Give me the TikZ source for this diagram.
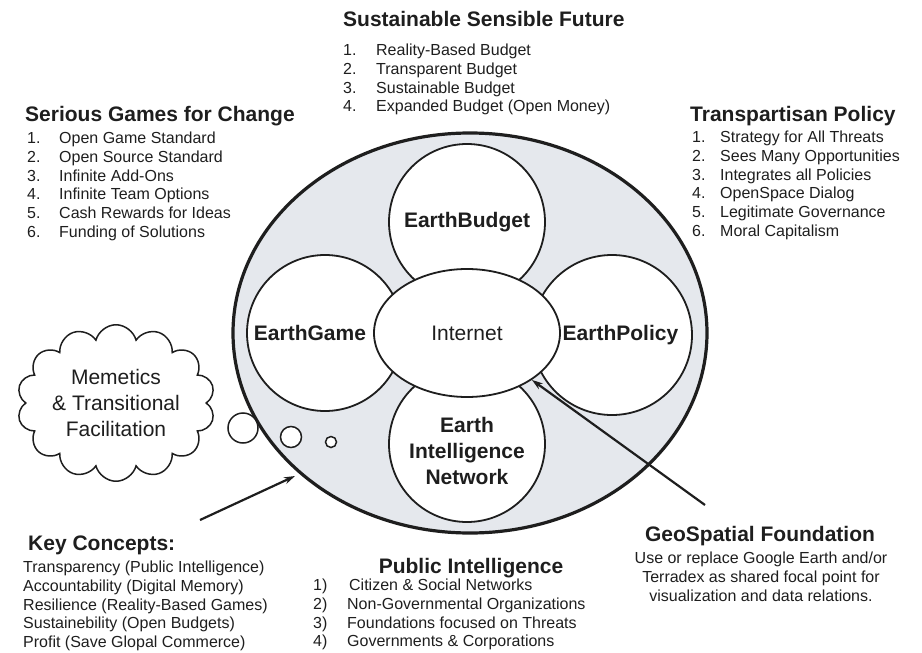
\documentclass[tikz,border=0pt]{standalone}
\usepackage{fontspec}
\setmainfont{Liberation Sans}
\usetikzlibrary{shapes.geometric,shapes.symbols,arrows.meta}

\definecolor{ink}{RGB}{30,30,30}
\definecolor{globe}{RGB}{229,232,237}

\newcommand{\headsize}{\fontsize{21}{25}\selectfont}
\newcommand{\labelsize}{\fontsize{21}{26}\selectfont}
\newcommand{\listsize}{\fontsize{16}{18.8}\selectfont}

\begin{document}
\begin{tikzpicture}[x=1pt,y=-1pt,ink,
  head/.style={anchor=base west,inner sep=0pt,font=\headsize\bfseries},
  list/.style={anchor=base west,inner sep=0pt,font=\listsize},
  planet/.style={circle,draw,fill=white,line width=1.8pt,minimum size=156pt,inner sep=0pt,align=center,font=\labelsize\bfseries},
  bubble/.style={circle,draw,fill=white,line width=1.5pt,inner sep=0pt},
  pointer/.style={line width=2.2pt,-{Stealth[length=11pt,width=7pt]}}]
\useasboundingbox (0,0) rectangle (922,653);

% the big shaded oval and its four parts
\node[ellipse,draw,fill=globe,line width=3.2pt,minimum width=474pt,minimum height=400pt] (world) at (470,333) {};
\node[bubble,minimum size=30pt] (puffA) at (243,428) {};
\node[planet] (budget) at (467,222) {EarthBudget};
\node[planet] (game) at (325,333) {EarthGame\hspace*{30pt}};
\node[planet,minimum size=160pt] (policy) at (612,335) {\hspace*{17pt}EarthPolicy};
\node[planet,label={[font=\labelsize\bfseries,align=center,yshift=-7pt]center:{Earth\\Intelligence\\Network}}] (network) at (467,444) {};
\node[ellipse,draw,fill=white,line width=1.8pt,minimum width=186pt,minimum height=128pt,font=\labelsize] (internet) at (467,333) {Internet};
\node[bubble,minimum size=21pt] (puffB) at (291,437) {};
\node[bubble,minimum size=11pt] (puffC) at (331,442) {};

% thought cloud
\node[cloud,draw,fill=white,cloud puffs=14,aspect=1.4,line width=1.5pt,minimum width=180pt,minimum height=130pt,inner sep=0pt,align=center,font=\labelsize] (memes) at (116,403) {Memetics\\\& Transitional\\Facilitation};

% arrows
\coordinate (keytail) at (200,520);
\coordinate (keyhead) at (295,476);
\coordinate (geotail) at (705,505);
\draw[pointer] (keytail) -- (keyhead);
\draw[pointer] (geotail) -- (internet);

% Sustainable Sensible Future
\node[head] (future) at (343,26) {Sustainable Sensible Future};
\node[list] (futurelist) at (343,55.5) {\begin{tabular}[t]{@{}p{33pt}@{}l@{}}
1. & Reality-Based Budget\\
2. & Transparent Budget\\
3. & Sustainable Budget\\
4. & Expanded Budget (Open Money)
\end{tabular}};

% Serious Games for Change
\node[head] (games) at (25,121) {Serious Games for Change};
\node[list] (gameslist) at (27,143.5) {\begin{tabular}[t]{@{}p{32pt}@{}l@{}}
1. & Open Game Standard\\
2. & Open Source Standard\\
3. & Infinite Add-Ons\\
4. & Infinite Team Options\\
5. & Cash Rewards for Ideas\\
6. & Funding of Solutions
\end{tabular}};

% Transpartisan Policy
\node[head] (transpolicy) at (690,121) {Transpartisan Policy};
\node[list] (policylist) at (692,142.5) {\begin{tabular}[t]{@{}p{28pt}@{}l@{}}
1. & Strategy for All Threats\\
2. & Sees Many Opportunities\\
3. & Integrates all Policies\\
4. & OpenSpace Dialog\\
5. & Legitimate Governance\\
6. & Moral Capitalism
\end{tabular}};

% Key Concepts
\node[head] (keys) at (28,550) {Key Concepts:};
\node[list] (keyslist) at (23,572.5) {\begin{tabular}[t]{@{}l@{}}
Transparency (Public Intelligence)\\
Accountability (Digital Memory)\\
Resilience (Reality-Based Games)\\
Sustainebility (Open Budgets)\\
Profit (Save Glopal Commerce)
\end{tabular}};

% Public Intelligence
\node[head,anchor=base] (public) at (471,573) {Public Intelligence};
\node[list] (publiclist) at (313,590.5) {\begin{tabular}[t]{@{}p{34pt}@{}l@{}}
1) & \hspace*{2pt}Citizen \& Social Networks\\
2) & Non-Governmental Organizations\\
3) & Foundations focused on Threats\\
4) & Governments \& Corporations
\end{tabular}};

% GeoSpatial Foundation
\node[head,anchor=base] (geo) at (760,541) {GeoSpatial Foundation};
\node[list,anchor=base] (geotext) at (761,563.5) {\begin{tabular}[t]{@{}c@{}}
Use or replace Google Earth and/or\\
Terradex as shared focal point for\\
visualization and data relations.
\end{tabular}};
\end{tikzpicture}
\end{document}
